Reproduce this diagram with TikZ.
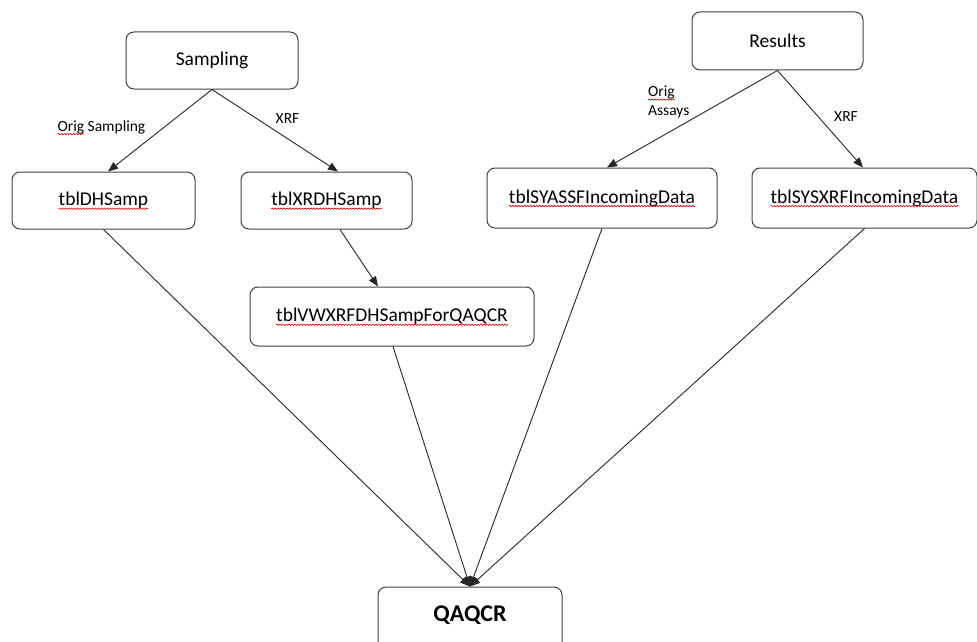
\documentclass[tikz,border=0pt]{standalone}
\usepackage{fontspec}
\setmainfont{Carlito}
\usetikzlibrary{arrows.meta,decorations.pathmorphing}
\tikzset{
  box/.style={draw=black!75, line width=1pt, rounded corners=8pt, inner sep=0pt},
  boxtext/.style={inner sep=0pt, font=\fontsize{19.5}{23}\selectfont},
  lbl/.style={inner sep=0pt, font=\fontsize{15.5}{19}\selectfont, align=left},
  conn/.style={line width=0.9pt, draw=black!85, -{Triangle[length=10pt,width=8pt]}},
  squig/.style={draw=red!85!black, line width=0.6pt, decorate, decoration={snake, amplitude=0.7pt, segment length=3pt}}
}
\begin{document}
\begin{tikzpicture}[x=1pt,y=-1pt]
\useasboundingbox (0,0) rectangle (977,642);
% boxes
\node[box, minimum width=172pt, minimum height=57pt] (samp) at (212,60.5) {};
\node[box, minimum width=171pt, minimum height=58pt] (res) at (777.5,41) {};
\node[box, minimum width=183pt, minimum height=57pt] (dh) at (103.5,200.5) {};
\node[box, minimum width=171pt, minimum height=57pt] (xrdh) at (326.5,200.5) {};
\node[box, minimum width=230pt, minimum height=60pt] (syass) at (602,198) {};
\node[box, minimum width=225pt, minimum height=60pt] (sysxrf) at (864.5,198) {};
\node[box, minimum width=284pt, minimum height=59pt] (vw) at (392,316.5) {};
\node[box, minimum width=184pt, minimum height=70pt] (qa) at (470,622) {};
% texts
\node[boxtext] (sampT) at (samp.center) {Sampling};
\node[boxtext] (resT) at (res.center) {Results};
\node[boxtext] (dhT) at (dh.center) {tblDHSamp};
\node[boxtext] (xrdhT) at (xrdh.center) {tblXRDHSamp};
\node[boxtext] (syassT) at (syass.center) {tblSYASSFIncomingData};
\node[boxtext] (sysxrfT) at (sysxrf.center) {tblSYSXRFIncomingData};
\node[boxtext] (vwT) at (vw.center) {tblVWXRFDHSampForQAQCR};
\node[inner sep=0pt, font=\fontsize{24}{28}\selectfont\bfseries] (qaT) at (470,615) {QAQCR};
% squiggles
\foreach \n in {dhT,xrdhT,syassT,sysxrfT,vwT}{
  \draw[squig] ([yshift=-3pt]\n.base west) -- ([yshift=-3pt]\n.base east);
}
% labels
\node[lbl] (l1) at (101.5,127) {Orig Sampling};
\node[lbl] (l2) at (287.5,119) {XRF};
\node[lbl, anchor=west] (l3) at (648,102) {Orig\\Assays};
\node[lbl] (l4) at (846,117) {XRF};
\node[inner sep=0pt, font=\fontsize{15.5}{19}\selectfont] (l1o) at (l1.base west) [anchor=base west] {\phantom{Orig}};
\draw[squig] ([yshift=-3pt]l1o.base west) -- ([yshift=-3pt]l1o.base east);
\node[inner sep=0pt, font=\fontsize{15.5}{19}\selectfont, anchor=north west] (l3o) at (l3.north west) {\phantom{Orig}};
\draw[squig] ([yshift=-3pt]l3o.base west) -- ([yshift=-3pt]l3o.base east);
% connectors
\draw[conn] (samp.south) -- ([xshift=4.5pt]dh.north);
\draw[conn] (samp.south) -- ([xshift=11.5pt]xrdh.north);
\draw[conn] (res.south) -- ([xshift=5pt]syass.north);
\draw[conn] (res.south) -- ([xshift=-1.5pt]sysxrf.north);
\draw[conn] ([xshift=13.5pt]xrdh.south) -- ([xshift=-14pt]vw.north);
\draw[conn] (dh.south) -- (qa.north);
\draw[conn] ([xshift=1pt]vw.south) -- (qa.north);
\draw[conn] (syass.south) -- (qa.north);
\draw[conn] (sysxrf.south) -- (qa.north);
\end{tikzpicture}
\end{document}
